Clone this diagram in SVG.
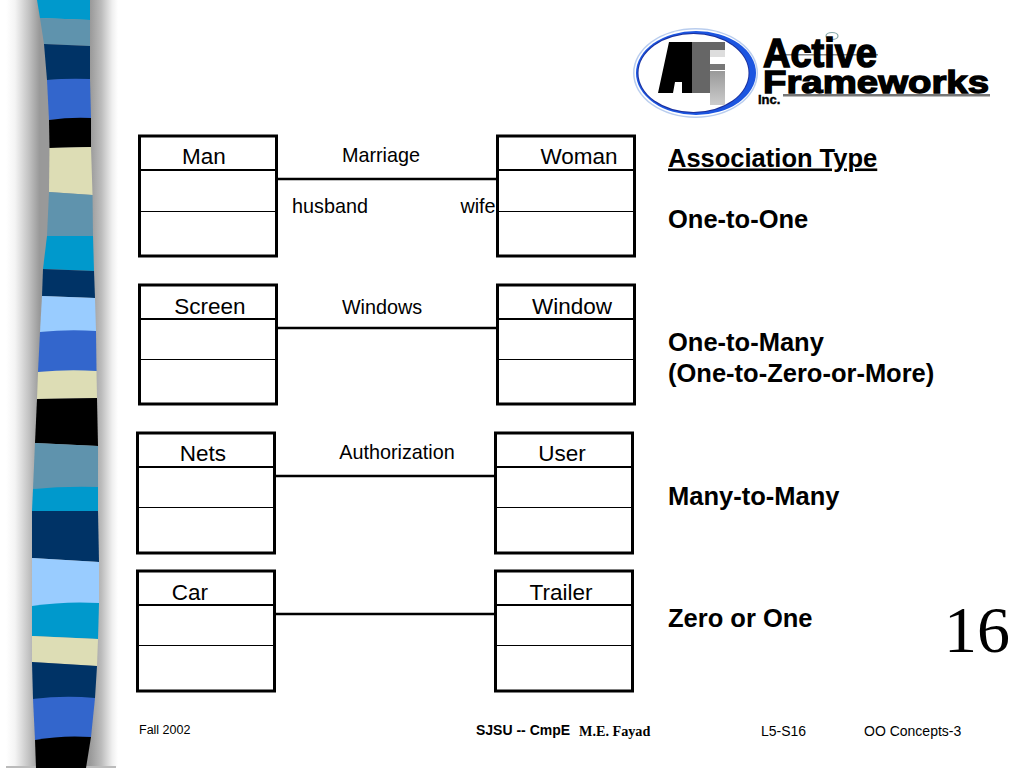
<svg xmlns="http://www.w3.org/2000/svg" width="1024" height="768" viewBox="0 0 1024 768">
<style>
text{font-family:"Liberation Sans",Arial,sans-serif;fill:#000}
.n{font-size:22.500px}
.s{font-size:19.800px}
.h{font-size:25.500px;font-weight:bold}
.f{font-size:14px}
.fa{font-size:12.500px}
.b{fill:#fff;stroke:#000;stroke-width:3}
.d1{stroke:#000;stroke-width:2.200;fill:none}
.d2{stroke:#000;stroke-width:1;fill:none}
.c{stroke:#000;stroke-width:2.700;fill:none}
.cy{fill:#0099cc}.st{fill:#5f93ad}.na{fill:#003366}.bl{fill:#3366cc}.k{fill:#000}.cr{fill:#ddddb5}.li{fill:#99ccff}
</style>
<defs>
<linearGradient id="shadow" x1="0" x2="1" y1="0" y2="0">
<stop offset="0" stop-color="#fff"/>
<stop offset="0.08" stop-color="#f4f4f4"/>
<stop offset="0.2" stop-color="#c4c4c4"/>
<stop offset="0.3" stop-color="#999"/>
<stop offset="0.75" stop-color="#999"/>
<stop offset="0.85" stop-color="#bbb"/>
<stop offset="0.95" stop-color="#f0f0f0"/>
<stop offset="1" stop-color="#fff"/>
</linearGradient>
<linearGradient id="stem" x1="0" x2="0" y1="0" y2="1">
<stop offset="0" stop-color="#999"/><stop offset="1" stop-color="#ccc"/>
</linearGradient>
</defs>
<rect width="1024" height="768" fill="#fff"/>
<rect x="6" y="0" width="112" height="767" fill="url(#shadow)"/>
<rect x="6" y="766" width="110" height="2" fill="#bbb"/>
<g id="strip">
<polygon class="cy" points="37,0 90,0 90,20 40,18"/>
<polygon class="st" points="40,18 90,20 90,46 44,44"/>
<polygon class="na" points="44,44 90,46 90,79 47,80"/>
<path class="bl" d="M47,80Q68,78 90,79L91,118 49,120Z"/>
<path class="k" d="M49,120Q70,117 91,118L91,147 49.500,148Z"/>
<polygon class="cr" points="49.500,148 91,147 92.500,195 49,192"/>
<polygon class="st" points="49,192 92.500,195 93,236 47,236"/>
<polygon class="cy" points="47,236 93,236 94,271 43,269"/>
<polygon class="na" points="43,269 94,271 95,298 42,296"/>
<polygon class="li" points="42,296 95,298 96,331 40,332"/>
<path class="bl" d="M40,332Q68,329 96,331L96.500,371 38,372Z"/>
<path class="cr" d="M38,372Q68,369 96.500,371L97,398 37,399Z"/>
<polygon class="k" points="37,399 97,398 98,446 35,443"/>
<polygon class="st" points="35,443 98,446 98,487 33,489"/>
<path class="cy" d="M33,489Q65,486 98,487L98,511 32,511Z"/>
<polygon class="na" points="32,511 98,511 99,562 32,558"/>
<polygon class="li" points="32,558 99,562 99,603 32,606"/>
<path class="cy" d="M32,606Q65,601 99,603L98,639 32,636Z"/>
<polygon class="cr" points="32,636 98,639 97,666 32,662"/>
<polygon class="na" points="32,662 97,666 95,698 33,699"/>
<path class="bl" d="M33,699Q64,695 95,698L91,737 35,740Z"/>
<path class="k" d="M35,740Q62,735 91,737L86,768 36,768Z"/>
</g>
<g id="logo">
<ellipse cx="695.500" cy="73" rx="62.500" ry="45" fill="#b9cdee"/>
<ellipse cx="695.500" cy="73" rx="61" ry="43.500" fill="#fff"/>
<ellipse cx="696" cy="73" rx="60" ry="42" fill="#1c55e0"/>
<ellipse cx="693.500" cy="73" rx="56" ry="40" fill="#1a2f9c"/>
<ellipse cx="693.500" cy="73" rx="55" ry="39" fill="#fff"/>
<polygon points="669,42 692,42 692,93 682,93 682,82 675,82 673,93 658,93" fill="#000"/>
<polygon points="692,42 725,42 725,50 710,50 710,93 692,93" fill="#666"/>
<rect x="710" y="50" width="15" height="7" fill="#ddd"/>
<rect x="710" y="64" width="15" height="6" fill="#777"/>
<rect x="710" y="71" width="15" height="34" fill="url(#stem)"/>
<ellipse cx="832" cy="36" rx="6" ry="3.500" fill="#fff" stroke="#8aa" stroke-width="1.200"/>
<rect x="785" y="54" width="93" height="1.500" fill="#888"/>
<rect x="783" y="94" width="207" height="2.500" fill="#777"/>
<text x="763" y="67" font-size="41" font-weight="bold" stroke="#000" stroke-width="1.500" textLength="114" lengthAdjust="spacingAndGlyphs">Active</text>
<text x="763" y="93" font-size="32" font-weight="bold" stroke="#000" stroke-width="1.300" textLength="226" lengthAdjust="spacingAndGlyphs">Frameworks</text>
<text x="758" y="104" font-size="13" font-weight="bold" stroke="#000" stroke-width=".4">Inc.</text>
</g>
<g id="connectors">
<line class="c" x1="277" y1="179" x2="497" y2="179"/>
<line class="c" x1="277" y1="328" x2="497" y2="328"/>
<line class="c" x1="275" y1="476" x2="495" y2="476"/>
<line class="c" x1="275" y1="614" x2="495" y2="614"/>
</g>
<g id="man"><rect class="b" x="139.500" y="136" width="137" height="120"/><line class="d1" x1="139" y1="170" x2="277" y2="170"/><line class="d2" x1="139" y1="211.500" x2="277" y2="211.500"/><text class="n" x="204" y="163.500" text-anchor="middle">Man</text></g>
<g id="woman"><rect class="b" x="497.500" y="136" width="137" height="120"/><line class="d1" x1="497" y1="170" x2="635" y2="170"/><line class="d2" x1="497" y1="211.500" x2="635" y2="211.500"/><text class="n" x="579" y="163.500" text-anchor="middle">Woman</text></g>
<g id="screen"><rect class="b" x="139.500" y="285" width="137" height="119"/><line class="d1" x1="139" y1="319" x2="277" y2="319"/><line class="d2" x1="139" y1="359.500" x2="277" y2="359.500"/><text class="n" x="210" y="313.500" text-anchor="middle">Screen</text></g>
<g id="window"><rect class="b" x="497.500" y="285" width="137" height="119"/><line class="d1" x1="497" y1="319" x2="635" y2="319"/><line class="d2" x1="497" y1="359.500" x2="635" y2="359.500"/><text class="n" x="572" y="313.500" text-anchor="middle">Window</text></g>
<g id="nets"><rect class="b" x="137.500" y="433" width="137" height="120"/><line class="d1" x1="137" y1="467" x2="275" y2="467"/><line class="d2" x1="137" y1="507.500" x2="275" y2="507.500"/><text class="n" x="203" y="460.500" text-anchor="middle">Nets</text></g>
<g id="user"><rect class="b" x="495.500" y="433" width="137" height="120"/><line class="d1" x1="495" y1="467" x2="633" y2="467"/><line class="d2" x1="495" y1="507.500" x2="633" y2="507.500"/><text class="n" x="562" y="460.500" text-anchor="middle">User</text></g>
<g id="car"><rect class="b" x="137.500" y="571" width="137" height="120"/><line class="d1" x1="137" y1="605" x2="275" y2="605"/><line class="d2" x1="137" y1="645.500" x2="275" y2="645.500"/><text class="n" x="190" y="600" text-anchor="middle">Car</text></g>
<g id="trailer"><rect class="b" x="495.500" y="571" width="137" height="120"/><line class="d1" x1="495" y1="605" x2="633" y2="605"/><line class="d2" x1="495" y1="645.500" x2="633" y2="645.500"/><text class="n" x="561" y="600" text-anchor="middle">Trailer</text></g>
<g id="labels">
<text class="s" x="381" y="162" text-anchor="middle">Marriage</text>
<text class="s" x="330" y="212.500" text-anchor="middle">husband</text>
<text class="s" x="478" y="212.500" text-anchor="middle">wife</text>
<text class="s" x="382" y="313.500" text-anchor="middle">Windows</text>
<text class="s" x="397" y="458.500" text-anchor="middle">Authorization</text>
<text class="h" x="668" y="166.500" text-decoration="underline">Association Type</text>
<text class="h" x="668" y="228">One-to-One</text>
<text class="h" x="668" y="351">One-to-Many</text>
<text class="h" x="668" y="381.500">(One-to-Zero-or-More)</text>
<text class="h" x="668" y="505">Many-to-Many</text>
<text class="h" x="668" y="627">Zero or One</text>
<text x="977" y="652" text-anchor="middle" font-size="66" style="font-family:'Liberation Serif',serif">16</text>
<text class="fa" x="139" y="734">Fall 2002</text>
<text class="f" x="476" y="735" font-weight="bold">SJSU -- CmpE</text>
<text x="579" y="735.500" font-size="14.200" font-weight="bold" style="font-family:'Liberation Serif',serif">M.E. Fayad</text>
<text class="f" x="761" y="735.500">L5-S16</text>
<text class="f" x="864" y="735.500">OO Concepts-3</text>
</g>
</svg>
